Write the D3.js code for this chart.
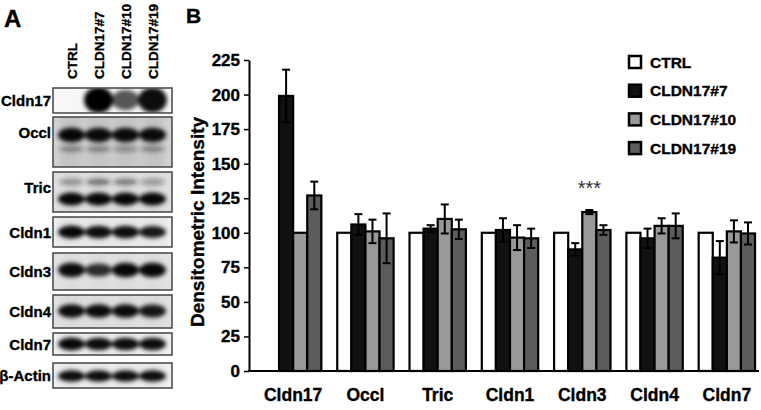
<!DOCTYPE html>
<html>
<head>
<meta charset="utf-8">
<script src="https://cdn.jsdelivr.net/npm/d3@7"></script>
<style>
  body { margin: 0; background: #fff; }
  svg { display: block; }
  text { font-family: 'Liberation Sans', Arial, sans-serif; font-weight: bold; fill: #000; stroke: #000; stroke-width: 0.35px; }
</style>
</head>
<body>
<script>
// chart data (panel B) --------------------------------
var categories = ['Cldn17', 'Occl', 'Tric', 'Cldn1', 'Cldn3', 'Cldn4', 'Cldn7'];
var seriesNames = ['CTRL', 'CLDN17#7', 'CLDN17#10', 'CLDN17#19'];
var ctrlValues = [0, 100, 100, 100, 100, 100, 100];
var ctrlErrors = [0, 0, 0, 0, 0, 0, 0];
var c7Values = [199, 106, 103, 102, 88, 96, 82];
var c7Errors = [19, 7.5, 2.5, 8.5, 4.5, 7, 12];
var c10Values = [100, 101, 110, 96.5, 115, 105, 101];
var c10Errors = [0, 8.5, 10.5, 9, 1.5, 5.5, 8];
var c19Values = [127, 96, 102.5, 96, 102, 105, 99.5];
var c19Errors = [10, 18, 7, 7, 3.5, 9, 8];
var yTicks = [0, 25, 50, 75, 100, 125, 150, 175, 200, 225];

// blot data (panel A) ---------------------------------
var blotRows = ['Cldn17', 'Occl', 'Tric', 'Cldn1', 'Cldn3', 'Cldn4', 'Cldn7', '\u03B2-Actin'];
var laneLabels = ['CTRL', 'CLDN17#7', 'CLDN17#10', 'CLDN17#19'];
var mainBand = [
  [0, 1, 0.65, 0.95],
  [0.97, 0.95, 0.95, 0.95],
  [0.97, 0.97, 0.97, 0.97],
  [0.97, 0.95, 0.95, 0.9],
  [0.95, 0.8, 0.97, 0.97],
  [0.95, 0.95, 0.95, 0.9],
  [0.97, 0.95, 0.95, 0.95],
  [0.95, 0.95, 0.95, 0.95]
];
var faintBand = [null, [0.4, 0.4, 0.35, 0.4], [0.4, 0.55, 0.5, 0.35], null, null, null, null, null];

var values = [ctrlValues, c7Values, c10Values, c19Values];
var errors = [ctrlErrors, c7Errors, c10Errors, c19Errors];
var fills = ['#ffffff', '#111111', '#999999', '#5c5c5c'];

var svg = d3.select('body').append('svg')
  .attr('width', 761)
  .attr('height', 410);

// panel letters
svg.append('text').attr('x', 4).attr('y', 27).style('font-size', '24px').text('A');
svg.append('text').attr('x', 186).attr('y', 23).style('font-size', '21px').text('B');

// ---------------- panel A : blot ----------------
// box layout: [top, bottom, main band y, main band ry, faint band y]
var blotLayout = [
  [88, 113, 100, 13, 0],
  [117, 167, 135, 7.5, 149],
  [172, 212, 199, 6.5, 182],
  [217, 247, 232, 6.5, 0],
  [253, 290, 270, 7.5, 0],
  [295, 328, 311, 7, 0],
  [333, 355, 344, 6.5, 0],
  [363, 388, 376, 6, 0]
];
var blotBg = ['#f7f7f7', '#d2d2d2', '#e0e0e0', '#eeeeee', '#e4e4e4', '#e2e2e2', '#f2f2f2', '#f0f0f0'];

var lane = d3.scaleBand().domain(laneLabels).range([58, 166]);

var defs = svg.append('defs');
defs.append('filter').attr('id', 'blur')
  .attr('x', '-50%').attr('y', '-50%').attr('width', '200%').attr('height', '200%')
  .append('feGaussianBlur').attr('stdDeviation', 2);
defs.append('filter').attr('id', 'smear')
  .attr('x', '-50%').attr('y', '-50%').attr('width', '200%').attr('height', '200%')
  .append('feGaussianBlur').attr('stdDeviation', 4);

laneLabels.forEach(function(l) {
  var cx = lane(l) + lane.bandwidth() / 2 + 5;
  svg.append('text')
    .attr('transform', 'translate(' + cx + ',79) rotate(-90)')
    .style('font-size', '13.5px')
    .text(l);
});

blotRows.forEach(function(name, i) {
  var lay = blotLayout[i];
  var top = lay[0], bottom = lay[1];
  defs.append('clipPath').attr('id', 'clip' + i)
    .append('rect').attr('x', 53).attr('y', top).attr('width', 119).attr('height', bottom - top);

  var g = svg.append('g').attr('clip-path', 'url(#clip' + i + ')');
  g.append('rect').attr('x', 53).attr('y', top).attr('width', 119).attr('height', bottom - top)
    .attr('fill', blotBg[i]);
  // faint lane smear
  var smear = g.append('g').attr('filter', 'url(#smear)');
  var bands = g.append('g').attr('filter', 'url(#blur)');

  laneLabels.forEach(function(l, li) {
    var cx = lane(l) + lane.bandwidth() / 2;
    var m = mainBand[i][li];
    if (i > 0) {
      smear.append('rect')
        .attr('x', cx - 11).attr('y', top - 5)
        .attr('width', 22).attr('height', bottom - top + 10)
        .attr('fill', '#000').attr('opacity', i === 1 ? 0.07 : 0.035);
    }
    if (m > 0) {
      bands.append('ellipse')
        .attr('cx', cx).attr('cy', lay[2])
        .attr('rx', i === 0 ? 12 + m * 2.5 : 13.5)
        .attr('ry', lay[3] * (0.4 + 0.6 * m))
        .attr('fill', '#050505')
        .attr('opacity', m);
    }
    if (faintBand[i]) {
      bands.append('ellipse')
        .attr('cx', cx).attr('cy', lay[4])
        .attr('rx', 12.5).attr('ry', 3.2)
        .attr('fill', '#222')
        .attr('opacity', faintBand[i][li]);
    }
  });

  svg.append('rect').attr('x', 53).attr('y', top).attr('width', 119).attr('height', bottom - top)
    .attr('fill', 'none').attr('stroke', '#444').attr('stroke-width', 1.5);

  var labelY = i === 1 ? 138 : (i === 2 ? 193 : (top + bottom) / 2 + 5.5);
  svg.append('text')
    .attr('x', 51).attr('y', labelY)
    .attr('text-anchor', 'end')
    .style('font-size', '15px')
    .text(name);
});

// ---------------- panel B : bar chart ----------------
var x0 = d3.scaleBand().domain(categories).range([257, 763]).paddingInner(0.22).paddingOuter(0.11);
var x1 = d3.scaleBand().domain(seriesNames).range([0, x0.bandwidth()]);
var y = d3.scaleLinear().domain([0, 225]).range([371, 60]);

var yAxis = svg.append('g')
  .attr('transform', 'translate(249,0)')
  .call(d3.axisLeft(y).tickValues(yTicks).tickSize(5).tickSizeOuter(0).tickPadding(4));
yAxis.select('.domain').attr('stroke-width', 2);
yAxis.selectAll('.tick line').attr('stroke-width', 1.5);
yAxis.selectAll('.tick text')
  .style('font-size', '17px')
  .style('font-family', "'Liberation Sans', Arial, sans-serif")
  .style('font-weight', 'bold');

svg.append('text')
  .attr('transform', 'translate(204,222) rotate(-90)')
  .attr('text-anchor', 'middle')
  .style('font-size', '19px')
  .text('Densitometric Intensity');

var groups = svg.selectAll('.group')
  .data(categories)
  .enter().append('g')
  .attr('class', 'group')
  .attr('transform', function(c) { return 'translate(' + x0(c) + ',0)'; });

var cells = groups.selectAll('.cell')
  .data(function(c, ci) {
    return seriesNames.map(function(s, si) {
      return { s: s, si: si, v: values[si][ci], e: errors[si][ci] };
    });
  })
  .enter().append('g').attr('class', 'cell');

cells.append('rect')
  .attr('x', function(d) { return x1(d.s); })
  .attr('y', function(d) { return y(d.v); })
  .attr('width', x1.bandwidth())
  .attr('height', function(d) { return y(0) - y(d.v); })
  .attr('fill', function(d) { return fills[d.si]; })
  .attr('stroke', '#000')
  .attr('stroke-width', 2.2);

var errs = cells.filter(function(d) { return d.e > 0; });
errs.append('line')
  .attr('x1', function(d) { return x1(d.s) + x1.bandwidth() / 2; })
  .attr('x2', function(d) { return x1(d.s) + x1.bandwidth() / 2; })
  .attr('y1', function(d) { return y(d.v - d.e); })
  .attr('y2', function(d) { return y(d.v + d.e); })
  .attr('stroke', '#000').attr('stroke-width', 2);
[1, -1].forEach(function(sign) {
  errs.append('line')
    .attr('x1', function(d) { return x1(d.s) + x1.bandwidth() / 2 - 4; })
    .attr('x2', function(d) { return x1(d.s) + x1.bandwidth() / 2 + 4; })
    .attr('y1', function(d) { return y(d.v + sign * d.e); })
    .attr('y2', function(d) { return y(d.v + sign * d.e); })
    .attr('stroke', '#000').attr('stroke-width', 2);
});

// x axis line + labels
svg.append('line')
  .attr('x1', 248).attr('x2', 759)
  .attr('y1', y(0)).attr('y2', y(0))
  .attr('stroke', '#000').attr('stroke-width', 2);

svg.selectAll('.xlabel')
  .data(categories)
  .enter().append('text')
  .attr('class', 'xlabel')
  .attr('x', function(c) { return x0(c) + x0.bandwidth() / 2; })
  .attr('y', 401)
  .attr('text-anchor', 'middle')
  .style('font-size', '17.5px')
  .text(function(c) { return c; });

// significance mark
svg.append('text')
  .attr('x', x0('Cldn3') + x1('CLDN17#10') + x1.bandwidth() / 2)
  .attr('y', 195)
  .attr('text-anchor', 'middle')
  .style('font-size', '20px')
  .style('font-weight', 'normal')
  .style('fill', '#333')
  .style('stroke', 'none')
  .text('***');

// legend
var legend = svg.selectAll('.legend')
  .data(seriesNames)
  .enter().append('g')
  .attr('class', 'legend')
  .attr('transform', function(d, i) { return 'translate(628,' + (62 + i * 28.7) + ')'; });
legend.append('rect')
  .attr('x', 1).attr('y', -6)
  .attr('width', 12).attr('height', 12)
  .attr('fill', function(d, i) { return fills[i]; })
  .attr('stroke', '#000').attr('stroke-width', 2.5);
legend.append('text')
  .attr('x', 22).attr('y', 5.5)
  .style('font-size', '15.5px')
  .text(function(d) { return d; });
</script>
</body>
</html>
